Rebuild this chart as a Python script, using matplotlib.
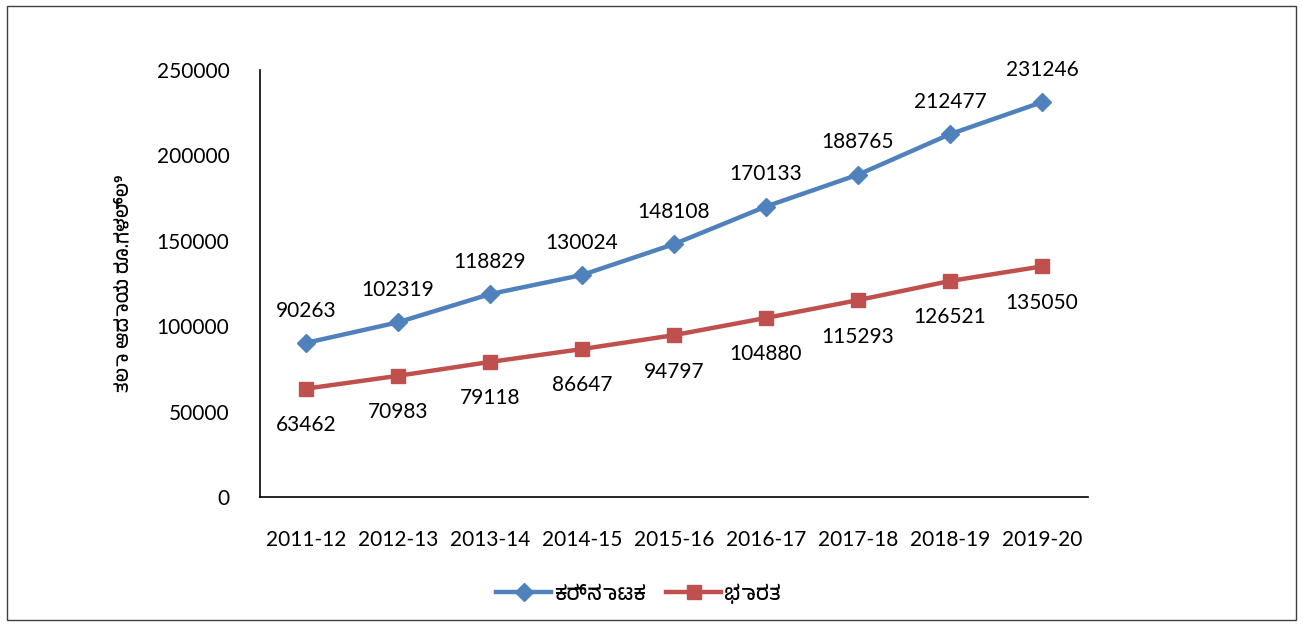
import numpy as np
import matplotlib.pyplot as plt
from matplotlib.patches import Rectangle
from matplotlib import font_manager

# kannada-capable font, if any
names = sorted(set(f.name for f in font_manager.fontManager.ttflist))
kn = [n for n in names if 'Kannada' in n]

years = ['2011-12', '2012-13', '2013-14', '2014-15', '2015-16',
         '2016-17', '2017-18', '2018-19', '2019-20']
karnataka = [90263, 102319, 118829, 130024, 148108, 170133, 188765, 212477, 231246]
india = [63462, 70983, 79118, 86647, 94797, 104880, 115293, 126521, 135050]

label_ka = 'ಕರ್ನಾಟಕ'
label_in = 'ಭಾರತ'
ylabel = 'ತಲಾ ಆದಾಯ ರೂ.ಗಳಲ್ಲಿ'

kfont = kn + ['Noto Sans', 'DejaVu Sans']
plt.rcParams['font.family'] = ['Lato', 'DejaVu Sans']

fig = plt.figure(figsize=(13.03, 6.26), dpi=100)
ax = fig.add_axes([0.1995, 0.206, 0.6355, 0.682])

x = np.arange(len(years))
ax.plot(x, karnataka, color='#4F81BD', lw=3.2, marker='D', ms=9, label=label_ka)
ax.plot(x, india, color='#C0504D', lw=3.2, marker='s', ms=10, label=label_in)

for i in range(len(years)):
    ax.annotate(str(karnataka[i]), (x[i], karnataka[i]), xytext=(0, 16),
                textcoords='offset points', ha='center', va='bottom', fontsize=15)
    ax.annotate(str(india[i]), (x[i], india[i]), xytext=(0, -19),
                textcoords='offset points', ha='center', va='top', fontsize=15)

ax.set_xlim(-0.5, 8.5)
ax.set_ylim(0, 250000)
ax.set_yticks(np.arange(0, 250001, 50000))
ax.set_xticks(x)
ax.set_xticklabels(years)
ax.tick_params(axis='both', length=0, labelsize=15)
ax.tick_params(axis='y', pad=22)
ax.tick_params(axis='x', pad=24)
for s in ['top', 'right']:
    ax.spines[s].set_visible(False)
for s in ['left', 'bottom']:
    ax.spines[s].set_color('black')
    ax.spines[s].set_linewidth(1.2)

ax.set_ylabel(ylabel, family=kfont, fontsize=14, fontweight='bold', labelpad=18)

leg = fig.legend(loc='center', bbox_to_anchor=(0.49, 0.052), ncol=2, frameon=False,
                 prop={'family': kfont, 'size': 15}, handlelength=2.6, columnspacing=1.0,
                 handletextpad=0.15)

fig.patches.append(Rectangle((0.005, 0.01), 0.99, 0.98, transform=fig.transFigure,
                             fill=False, edgecolor='#404040', lw=1))

fig.savefig('out.png', dpi=100)
